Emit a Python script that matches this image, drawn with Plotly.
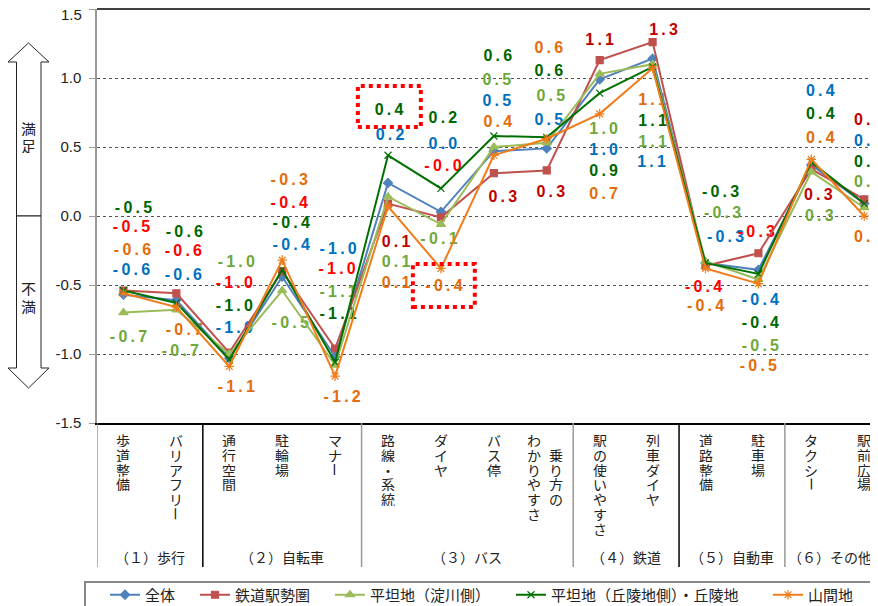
import plotly.graph_objects as go

# カテゴリ
categories = ["歩道整備", "バリアフリー", "通行空間", "駐輪場", "マナー",
              "路線・系統", "ダイヤ", "バス停", "乗り方のわかりやすさ",
              "駅の使いやすさ", "列車ダイヤ", "道路整備", "駐車場", "タクシー", "駅前広場"]
groups = ["（１）歩行", "（２）自転車", "（３）バス", "（４）鉄道", "（５）自動車", "（６）その他"]
group_center = [0.5, 3.0, 6.5, 9.5, 11.5, 13.35]
boundaries = [-0.5, 1.5, 4.5, 8.5, 10.5, 12.5]
boundary_colors = ["#999999", "#000000", "#999999", "#999999", "#000000", "#999999"]
y_ticks = [-1.5, -1.0, -0.5, 0.0, 0.5, 1.0, 1.5]

names = ["全体", "鉄道駅勢圏", "平坦地（淀川側）", "平坦地（丘陵地側）・丘陵地", "山間地"]

# 満足度の値
zentai = [-0.57, -0.61, -1.03, -0.44, -1.02, 0.24, 0.03, 0.47, 0.49, 0.99, 1.14, -0.34, -0.39, 0.37, 0.09]
tetsudo = [-0.54, -0.56, -0.99, -0.40, -0.96, 0.09, -0.01, 0.31, 0.33, 1.13, 1.26, -0.36, -0.27, 0.34, 0.12]
yodogawa = [-0.70, -0.68, -1.00, -0.54, -1.08, 0.14, -0.06, 0.50, 0.53, 1.03, 1.10, -0.33, -0.46, 0.32, 0.06]
kyuryo = [-0.54, -0.63, -1.04, -0.39, -1.06, 0.44, 0.20, 0.58, 0.57, 0.89, 1.08, -0.34, -0.42, 0.39, 0.09]
sankan = [-0.56, -0.66, -1.09, -0.32, -1.16, 0.07, -0.38, 0.44, 0.56, 0.74, 1.07, -0.38, -0.49, 0.41, 0.00]

# ラベル位置（横ずらし px / 縦位置）
lbl_dx = {
    "全体": [8, 7, 5, 9, 3, 2, 2, 3, 2, 4, -1, 20, 2, 9, 4],
    "鉄道駅勢圏": [8, 7, 5, 7, 2, 8, 2, 9, 4, 0, 11, -2, -2, 7, 4],
    "平坦地（淀川側）": [5, 4, 7, 8, 3, 8, -2, 3, 4, 4, 0, 17, 2, 8, 4],
    "平坦地（丘陵地側）・丘陵地": [10, 8, 5, 9, 3, 1, 2, 4, 2, 4, 0, 15, 2, 9, 4],
    "山間地": [9, 8, 7, 7, 7, 8, 3, 4, 2, 4, 0, 0, 0, 9, 4],
}
lbl_y = {
    "全体": [-0.399, -0.435, -0.819, -0.217, -0.246, 0.580, 0.514, 0.826, 0.688, 0.471, 0.384, -0.159, -0.616, 0.899, 0.536],
    "鉄道駅勢圏": [-0.087, -0.261, -0.493, 0.087, -0.391, -0.196, 0.355, 0.130, 0.167, 1.268, 1.341, -0.522, -0.123, 0.145, 0.688],
    "平坦地（淀川側）": [-0.884, -0.986, -0.341, -0.783, -0.558, -0.341, -0.174, 0.978, 0.862, 0.623, 0.529, 0.014, -0.949, -0.007, 0.239],
    "平坦地（丘陵地側）・丘陵地": [0.050, -0.123, -0.659, -0.058, -0.717, 0.761, 0.703, 1.152, 1.043, 0.319, 0.681, 0.167, -0.783, 0.732, 0.384],
    "山間地": [-0.254, -0.833, -1.246, 0.254, -1.319, -0.493, -0.514, 0.674, 1.210, 0.152, 0.833, -0.659, -1.094, 0.558, -0.159],
}

series = [zentai, tetsudo, yodogawa, kyuryo, sankan]
line_colors = ["#4F81BD", "#C0504D", "#9BBB59", "#007000", "#F07C1A"]
label_colors = ["#0070C0", None, "#6FA83A", "#006600", "#E46C0A"]
symbols = ["diamond", "square", "triangle-up", "x-thin-open", "asterisk-open"]
marker_sizes = [7, 7, 8, 7, 8]
legend_text_px = [147, 237, 372, 553, 810]

# プロット領域（参照画像上の px）。ページ余白 8px 分を差し引いて配置
PAGE = 8
L, T, W, H = 97, 9, 781, 414
XMIN, XMAX = -0.5, 14.26
unit = W / (XMAX - XMIN)


def px_x(p):
    return (p - L) / W


def px_y(p):
    return (T + H - p) / H


def spaced(s):
    return "\u2009".join(s)


fig = go.Figure()

# データラベル（線の下に描く）
for k, (name, vals) in enumerate(zip(names, series)):
    texts = [spaced(f"{v:.1f}") for v in vals]
    if label_colors[k] is None:
        cols = ["#FF0000" if t.startswith("-") else "#C00000" for t in texts]
    else:
        cols = label_colors[k]
    fig.add_trace(go.Scatter(
        x=[i + d / unit for i, d in enumerate(lbl_dx[name])],
        y=lbl_y[name],
        mode="text",
        text=texts,
        textfont=dict(family="Liberation Sans", size=16, color=cols, weight="bold"),
        showlegend=False,
        hoverinfo="skip",
        cliponaxis=False,
    ))

# 折れ線
for k, (name, vals) in enumerate(zip(names, series)):
    fig.add_trace(go.Scatter(
        x=list(range(len(categories))),
        y=vals,
        mode="lines+markers",
        name=name,
        line=dict(color=line_colors[k], width=2),
        marker=dict(symbol=symbols[k], size=marker_sizes[k], color=line_colors[k],
                    line=dict(color=line_colors[k], width=1.2)),
        legend="legend" if k == 0 else f"legend{k + 1}",
    ))

annotations = []
# 縦書きカテゴリラベル（1文字ずつ）
pitch = 14.8
for i, cat in enumerate(categories):
    if cat == "乗り方のわかりやすさ":
        cols = [("わかりやすさ", -13, 0), ("乗り方の", 9, 1)]
    else:
        cols = [(cat, 0, 0)]
    for text, dx, start in cols:
        for r, ch in enumerate(text):
            annotations.append(dict(
                x=i + dx / unit, xref="x",
                y=px_y(440 + (r + start) * pitch), yref="paper",
                text=ch, showarrow=False,
                textangle=90 if ch == "ー" else 0,
                height=14, borderpad=0,
                font=dict(family="Noto Sans CJK JP", size=14, color="#222222"),
                xanchor="center", yanchor="middle",
            ))

for g, c in zip(groups, group_center):
    annotations.append(dict(
        x=c, xref="x", y=px_y(557), yref="paper", text=g, showarrow=False,
        font=dict(family="Noto Sans CJK JP", size=14, color="#222222"),
        xanchor="center", yanchor="middle",
    ))

# 最上段の目盛ラベル（ページ端で切れないよう少し下げて描く）
annotations.append(dict(
    x=px_x(84), xref="paper", y=px_y(14), yref="paper", text=f"{y_ticks[-1]:.1f}",
    showarrow=False, xanchor="right", yanchor="middle",
    font=dict(family="Liberation Sans", size=15, color="#222222"),
))

# 満足 / 不満
for ch, yy in [("満", 128), ("足", 145), ("不", 288), ("満", 306)]:
    annotations.append(dict(
        x=px_x(28.5), xref="paper", y=px_y(yy), yref="paper", text=ch, showarrow=False,
        height=15, borderpad=0,
        font=dict(family="Noto Sans CJK JP", size=15, color="#222222"),
        xanchor="center", yanchor="middle",
    ))

shapes = []
for b, c in zip(boundaries, boundary_colors):
    shapes.append(dict(type="line", xref="x", yref="paper", x0=b, x1=b,
                       y0=0, y1=px_y(567), line=dict(color=c, width=1.5)))

# 上端の枠線
shapes.append(dict(type="line", xref="paper", yref="paper", x0=0, x1=1, y0=1, y1=1,
                   line=dict(color="#000000", width=1.5)))


def arrow_path(pts):
    return "M " + " L ".join(f"{px_x(a):.5f},{px_y(b):.5f}" for a, b in pts) + " Z"


up = [(28.5, 43), (49, 62), (41, 62), (41, 216), (16.5, 216), (16.5, 62), (8, 62)]
down = [(16.5, 216), (41, 216), (41, 368), (49, 368), (28.5, 388), (8, 368), (16.5, 368)]
for pts in (up, down):
    shapes.append(dict(type="path", xref="paper", yref="paper", path=arrow_path(pts),
                       line=dict(color="#222222", width=1), fillcolor="white"))

# 赤い点線の枠
for x0, x1, y0, y1 in [(4.43, 5.62, 0.645, 0.942), (5.47, 6.64, -0.659, -0.348)]:
    shapes.append(dict(type="rect", xref="x", yref="y", x0=x0, x1=x1, y0=y0, y1=y1,
                       line=dict(color="#FF0000", width=4, dash="dot")))

# 凡例の枠
shapes.append(dict(type="rect", xref="paper", yref="paper",
                   x0=px_x(85), x1=px_x(884), y0=px_y(582), y1=px_y(614),
                   line=dict(color="#888888", width=2)))

legend_style = dict(orientation="h", xanchor="left", yanchor="middle",
                    y=px_y(595), bgcolor="rgba(0,0,0,0)", borderwidth=0,
                    font=dict(family="Noto Sans CJK JP", size=15, color="#222222"))
legends = {}
for k, tx in enumerate(legend_text_px):
    key = "legend" if k == 0 else f"legend{k + 1}"
    legends[key] = dict(legend_style, x=px_x(tx - 42))

fig.update_layout(
    width=878, height=606,
    margin=dict(l=L - PAGE, r=878 - (L - PAGE) - W, t=T - PAGE, b=606 - (T - PAGE) - H,
                autoexpand=False),
    paper_bgcolor="white", plot_bgcolor="white",
    xaxis=dict(range=[XMIN, XMAX], showticklabels=False, showgrid=False, zeroline=False,
               showline=True, linecolor="#000000", linewidth=1.5, ticks=""),
    yaxis=dict(range=[-1.5, 1.5], tickvals=y_ticks,
               ticktext=[f"{v:.1f}" if v < y_ticks[-1] else "" for v in y_ticks],
               showline=True, linecolor="#999999", linewidth=1.5,
               ticks="outside", ticklen=6, tickcolor="#999999", ticklabelstandoff=5,
               tickfont=dict(family="Liberation Sans", size=15, color="#222222"),
               showgrid=True, gridcolor="#555555", griddash="dot", gridwidth=1,
               zeroline=False),
    annotations=annotations,
    shapes=shapes,
    hovermode="closest",
    **legends,
)

fig.write_html("out.html")
